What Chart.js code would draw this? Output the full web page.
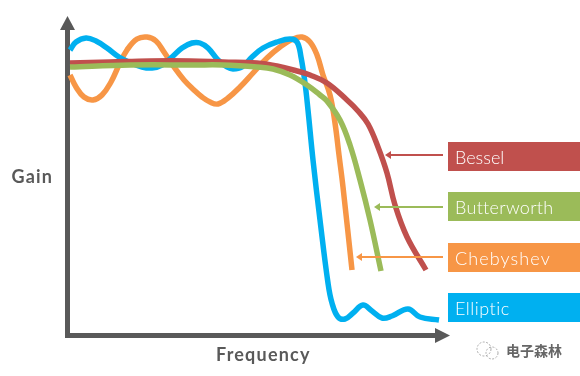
<!DOCTYPE html>
<html>
<head>
<meta charset="utf-8">
<script src="https://cdn.jsdelivr.net/npm/chart.js@4/dist/chart.umd.min.js"></script>
<style>html,body{margin:0;padding:0;background:#fff}canvas{display:block}</style>
</head>
<body>
<canvas id="c" width="580" height="376"></canvas>
<script>
const seriesNames = ['Bessel', 'Butterworth', 'Chebyshev', 'Elliptic'];
const besselFreq = [3,43,83,123,156,190,210,230,243,260,280,291,301,311,320,328,340,359];
const besselGain = [272,273,274,274,273,272,269,264,260,252,235,224,211,188,162,130,98,65];
const butterworthFreq = [3,63,127,156,190,206,223,240,253,260,273,283,293,303,314];
const butterworthGain = [268,270,270,270,268,266,260,250,240,234,215,190,155,115,64];
const chebyshevFreq = [3,9,17,26,35,44,52,60,70,80,89,97,107,117,127,135,143,151,161,173,186,200,213,226,235,243,250,256,263,268,272,276,285];
const chebyshevGain = [260,248,238,235,240,253,270,285,296,298,294,283,268,255,245,238,233,231,237,248,262,277,288,296,298,293,280,260,240,212,180,148,65];
const ellipticFreq = [3,9,19,29,40,52,64,75,85,95,105,115,125,133,141,151,160,166,175,185,196,210,223,230,234,238,241,246,253,261,265,271,278,286,296,305,315,325,341,353,372];
const ellipticGain = [285,293,297,294,287,278,272,268,267,270,278,287,292,292,287,275,268,266,268,278,287,293,296,293,278,252,225,175,115,52,32,18,16,22,30,24,17,19,26,18,15];
const calloutTipFreq = [318, 307, 289];
const calloutGain = [180, 128, 78];

const BLUE='#00B0F0', RED='#C0504D', GREEN='#9BBB59', ORANGE='#F79646', AXIS='#595959';
const zip=(xs,ys)=>xs.map((x,i)=>({x,y:ys[i]}));
const line=(label,xs,ys,color)=>({label,data:zip(xs,ys),borderColor:color,borderWidth:5.5,pointRadius:0,
  tension:0.4,fill:false,clip:false,showLine:true});

const decor={id:'decor',
  beforeDatasetsDraw(chart){
    const {ctx,scales:{x,y}}=chart;
    ctx.save();ctx.fillStyle=AXIS;
    const x0=x.getPixelForValue(0)+0.5,y0=y.getPixelForValue(0)+0.5,top=y.getPixelForValue(y.max),right=x.getPixelForValue(x.max);
    ctx.fillRect(x0-2.5,top+13,5,y0+2.5-top-13);
    ctx.fillRect(x0-2.5,y0-2.5,right-13-x0+2.5,5);
    ctx.beginPath();ctx.moveTo(x0,top+1);ctx.lineTo(x0-7.5,top+15);ctx.lineTo(x0+7.5,top+15);ctx.closePath();ctx.fill();
    ctx.beginPath();ctx.moveTo(right,y0);ctx.lineTo(right-15,y0-7.5);ctx.lineTo(right-15,y0+7.5);ctx.closePath();ctx.fill();
    ctx.restore();
  },
  afterDatasetsDraw(chart){
    const {ctx,scales:{x,y}}=chart;
    ctx.save();
    const colors=[RED,GREEN,ORANGE,BLUE], tops=[142,192,243,293], spacing=[0,0.3,1.1,0.5];
    ctx.textBaseline='alphabetic';
    seriesNames.forEach((n,i)=>{
      ctx.fillStyle=colors[i];ctx.fillRect(448,tops[i],132,29);
      if(i<3){
        const tx=x.getPixelForValue(calloutTipFreq[i]),ty=y.getPixelForValue(calloutGain[i]);
        ctx.strokeStyle=colors[i];ctx.lineWidth=2;
        ctx.beginPath();ctx.moveTo(443,ty);ctx.lineTo(tx+4,ty);ctx.stroke();
        ctx.beginPath();ctx.moveTo(tx,ty);ctx.lineTo(tx+6,ty-4);ctx.lineTo(tx+6,ty+4);ctx.closePath();ctx.fill();
      }
      ctx.fillStyle='#fff';ctx.font='300 18px Lato';ctx.textAlign='left';
      ctx.letterSpacing=spacing[i]+'px';
      ctx.fillText(n,455,tops[i]+21.5);
    });
    ctx.fillStyle=AXIS;ctx.font='bold 18px Lato';ctx.letterSpacing='1.2px';
    ctx.fillText('Gain',11.5,182.5);
    ctx.fillText('Frequency',216,361);
    ctx.letterSpacing='0px';
    ctx.strokeStyle='#aaa';ctx.lineWidth=1;ctx.setLineDash([2,1.5]);
    ctx.beginPath();ctx.arc(484,349,7,0,Math.PI*2);ctx.stroke();
    ctx.beginPath();ctx.arc(492,353,6,0,Math.PI*2);ctx.stroke();
    ctx.setLineDash([]);
    ctx.fillStyle='#666';ctx.font='bold 14px "Noto Sans CJK SC"';
    ctx.fillText('电子森林',506,356);
    ctx.restore();
  }};

new Chart(document.getElementById('c'),{
  type:'scatter',
  data:{datasets:[
    line('Butterworth',butterworthFreq,butterworthGain,GREEN),
    line('Bessel',besselFreq,besselGain,RED),
    line('Elliptic',ellipticFreq,ellipticGain,BLUE),
    line('Chebyshev',chebyshevFreq,chebyshevGain,ORANGE)
  ]},
  plugins:[decor],
  options:{responsive:false,animation:false,
    layout:{padding:{left:67,right:130,top:15,bottom:41}},
    plugins:{legend:{display:false},tooltip:{enabled:false}},
    scales:{
      x:{type:'linear',min:0,max:383,ticks:{display:false},grid:{display:false,drawTicks:false},border:{display:false}},
      y:{type:'linear',min:0,max:320,ticks:{display:false},grid:{display:false,drawTicks:false},border:{display:false}}
    }}
});
</script>
</body>
</html>
